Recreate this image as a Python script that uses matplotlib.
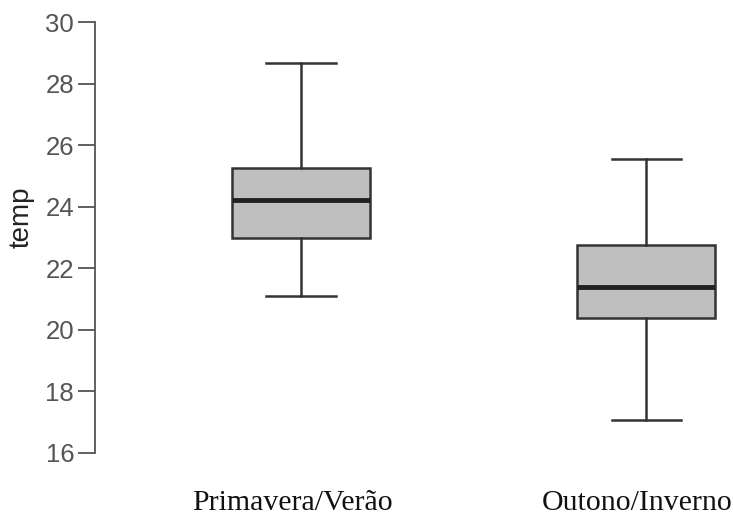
import matplotlib
matplotlib.use("Agg")
import matplotlib.pyplot as plt
from matplotlib.transforms import ScaledTranslation

# values
groups = ["Primavera/Verão", "Outono/Inverno"]
whislo = [21.1, 17.08]
q1 = [22.99, 20.39]
med = [24.22, 21.4]
q3 = [25.26, 22.76]
whishi = [28.67, 25.55]

stats = []
for i, g in enumerate(groups):
    stats.append({"label": g, "whislo": whislo[i], "q1": q1[i], "med": med[i],
                  "q3": q3[i], "whishi": whishi[i], "fliers": []})

fig = plt.figure(figsize=(7.33, 5.2), dpi=100)
ax = fig.add_axes([95 / 733, 1 - 453 / 520, 1 - 95 / 733, 431 / 520])

edge = "#333333"
ax.bxp(stats, positions=[1, 2], widths=0.4, patch_artist=True, showfliers=False,
       boxprops=dict(facecolor="#bfbfbf", edgecolor=edge, linewidth=1.8),
       medianprops=dict(color="#222222", linewidth=3.5),
       whiskerprops=dict(color=edge, linewidth=1.8),
       capprops=dict(color=edge, linewidth=1.8),
       capwidths=0.2)

ax.set_xlim(0.403, 2.252)
ax.set_ylim(16, 30)
ax.set_yticks(range(16, 31, 2))

for s in ["top", "right", "bottom"]:
    ax.spines[s].set_visible(False)
ax.spines["left"].set_color("#555555")
ax.spines["left"].set_linewidth(1.3)

ax.tick_params(axis="y", length=12, width=1.3, color="#555555", labelcolor="#555555",
               labelsize=18.5, pad=3)
for lab in ax.get_yticklabels():
    lab.set_fontfamily("Liberation Sans")
ax.tick_params(axis="x", length=0, pad=27, labelsize=21.5)
ax.set_xticks([1, 2])
ax.set_xticklabels(groups, fontfamily="Liberation Serif", color="#111111")

for lab in ax.get_xticklabels():
    lab.set_transform(lab.get_transform() + ScaledTranslation(-9 / 100, 0, fig.dpi_scale_trans))

ax.set_ylabel("temp", fontsize=20, color="#222222", fontfamily="Liberation Sans")
ax.yaxis.set_label_coords(-0.094, 0.548)

fig.savefig("out.png", dpi=100)
